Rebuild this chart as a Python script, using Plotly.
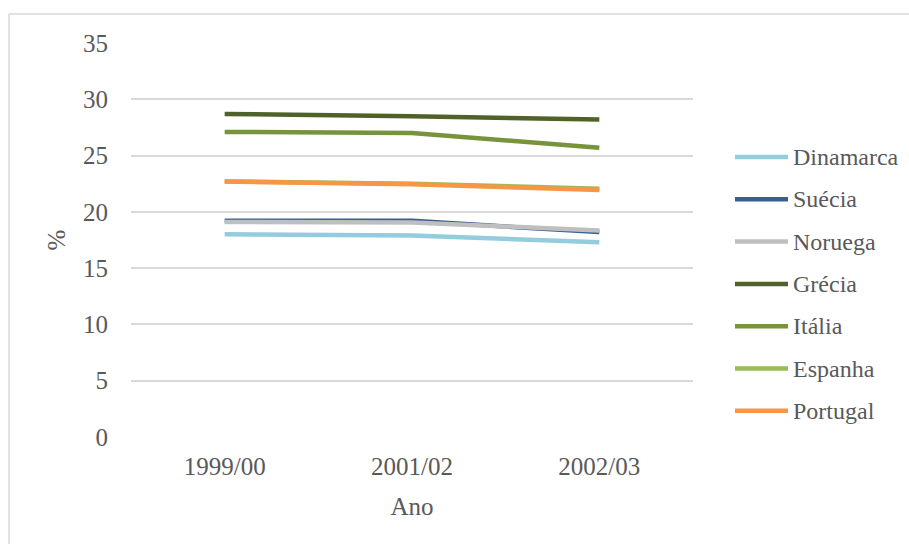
import plotly.graph_objects as go

# School years on the x axis
anos = ["1999/00", "2001/02", "2002/03"]

# Percentage per country
dinamarca = [18.0, 17.9, 17.3]
suecia = [19.2, 19.2, 18.2]
noruega = [19.1, 19.05, 18.35]
grecia = [28.7, 28.5, 28.2]
italia = [27.1, 27.0, 25.7]
espanha = [22.7, 22.5, 22.05]
portugal = [22.7, 22.45, 21.95]

y_ticks = [0, 5, 10, 15, 20, 25, 30, 35]

series = [
    ("Dinamarca", dinamarca, "#93CDDD"),
    ("Suécia", suecia, "#3A5F8F"),
    ("Noruega", noruega, "#BFBFBF"),
    ("Grécia", grecia, "#4F6228"),
    ("Itália", italia, "#77933C"),
    ("Espanha", espanha, "#9BBB59"),
    ("Portugal", portugal, "#F79646"),
]

FONT = "Liberation Serif"
TXT = "#595959"

W, H = 909, 544
L, R, T, B = 131, 216, 43, 107
PW, PH = W - L - R, H - T - B


def px_x(x):
    return (x - L) / PW


def px_y(y):
    return (H - B - y) / PH


fig = go.Figure()
for nome, valores, cor in series:
    fig.add_trace(go.Scatter(
        x=anos, y=valores, name=nome, mode="lines",
        line=dict(color=cor, width=4.5),
        showlegend=False,
    ))

fig.update_layout(
    width=W, height=H,
    margin=dict(l=L, r=R, t=T, b=B),
    paper_bgcolor="white", plot_bgcolor="white",
    font=dict(family=FONT, color=TXT, size=25),
    xaxis=dict(
        type="category", range=[-0.5, 2.5],
        showgrid=False, zeroline=False, showline=False,
        ticks="", ticklabelstandoff=12,
        tickfont=dict(family=FONT, size=25, color=TXT),
        title=dict(text="Ano", font=dict(family=FONT, size=25, color=TXT), standoff=18),
    ),
    yaxis=dict(
        range=[0, 35], tickvals=y_ticks,
        showgrid=True, gridcolor="#D9D9D9", gridwidth=1.5,
        zeroline=False, showline=False, ticks="",
        ticklabelstandoff=22,
        tickfont=dict(family=FONT, size=25, color=TXT),
        title=dict(text="%", font=dict(family=FONT, size=25, color=TXT), standoff=10),
    ),
)

# Legend: a line sample and a label per series
leg_top, leg_step = 157, 42.3
for i, (nome, _, cor) in enumerate(series):
    yc = px_y(leg_top + i * leg_step)
    fig.add_shape(type="line", xref="paper", yref="paper",
                  x0=px_x(735), x1=px_x(788), y0=yc, y1=yc,
                  line=dict(color=cor, width=4.5))
    fig.add_annotation(xref="paper", yref="paper", x=px_x(791), y=yc,
                       xanchor="left", yanchor="middle", showarrow=False,
                       text=nome, font=dict(family=FONT, size=24, color=TXT))

# Chart-area border (top and left edges)
fig.add_shape(type="line", xref="paper", yref="paper",
              x0=px_x(9), x1=px_x(909), y0=px_y(14), y1=px_y(14),
              line=dict(color="#D9D9D9", width=1.5))
fig.add_shape(type="line", xref="paper", yref="paper",
              x0=px_x(9), x1=px_x(9), y0=px_y(14), y1=px_y(544),
              line=dict(color="#D9D9D9", width=1.5))

fig.write_html("out.html")
